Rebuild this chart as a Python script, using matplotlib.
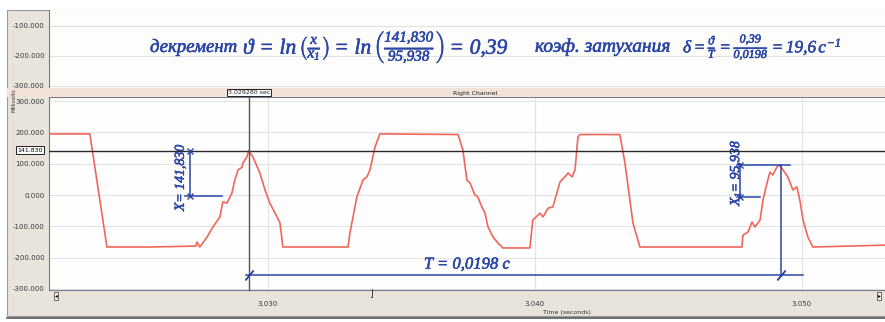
import matplotlib.pyplot as plt
from matplotlib.patches import Rectangle
import matplotlib.patheffects as pe

# waveform: time (seconds) / Millivolts
time_s = [3.02180, 3.02333, 3.02397, 3.02558, 3.02730, 3.02734, 3.02745, 3.02772, 3.02794,
          3.02820, 3.02831, 3.02846, 3.02865, 3.02876, 3.02888, 3.02903, 3.02906, 3.02921,
          3.02928, 3.02944, 3.02970, 3.02989, 3.03007, 3.03034, 3.03045, 3.03056, 3.03300,
          3.03307, 3.03333, 3.03356, 3.03371, 3.03382, 3.03401, 3.03419, 3.03712, 3.03730,
          3.03745, 3.03757, 3.03775, 3.03786, 3.03801, 3.03813, 3.03824, 3.03843, 3.03861,
          3.03880, 3.03981, 3.03992, 3.04019, 3.04030, 3.04049, 3.04067, 3.04082, 3.04094,
          3.04112, 3.04124, 3.04139, 3.04150, 3.04161, 3.04168, 3.04318, 3.04337, 3.04367,
          3.04393, 3.04775, 3.04779, 3.04798, 3.04813, 3.04824, 3.04843, 3.04854, 3.04869,
          3.04880, 3.04891, 3.04906, 3.04917, 3.04929, 3.04947, 3.04966, 3.04981, 3.04992,
          3.05004, 3.05022, 3.05041, 3.05311]
millivolts = [195, 195, -166, -166, -163, -150, -166, -134, -102,
              -70, -22, -26, 6, 48, 80, 89, 102, 121,
              141.83, 121, 70, 16, -26, -70, -89, -166, -166,
              -121, -6, 48, 58, 80, 153, 195, 193, 144,
              48, 38, 0, -6, -38, -58, -102, -134, -153,
              -169, -169, -80, -58, -70, -42, -38, 6, 42,
              58, 70, 58, 80, 185, 193, 193, 102, -89,
              -166, -166, -128, -118, -86, -102, -80, -16, 38,
              73, 64, 89, 95.94, 80, 58, 16, 26, -16,
              -80, -134, -166, -160]

main_ticks = [-300, -200, -100, 0, 100, 200, 300]
top_ticks = [-100, -200, -300]
time_ticks = [3.030, 3.040, 3.050]

cursor_time = 3.029280
x_value = 141.830
x1_value = 95.938
x1_time = 3.04921
x_mark_time = 3.02708
x1_mark_time = 3.04768
zero_level = -3
t_line_level = -256
t_line_end = 3.05004

W, H = 885, 322


def box(x0, y0, x1, y1):
    """pixel box -> figure rect"""
    return [x0 / W, 1 - y1 / H, (x1 - x0) / W, (y1 - y0) / H]


def px(x, y):
    return x / W, 1 - y / H


plt.rcParams['mathtext.fontset'] = 'custom'
plt.rcParams['mathtext.rm'] = 'Liberation Serif:italic'
plt.rcParams['mathtext.it'] = 'Liberation Serif:italic'

fig = plt.figure(figsize=(8.85, 3.22), dpi=100)

# window frame
fig.patches.append(Rectangle((7 / W, 1 - 316 / H), 1, 306 / H, transform=fig.transFigure,
                             facecolor='#e8e3db', edgecolor='#9a9a9a', lw=0.8, zorder=-5))

# upper (empty) channel
ax_top = fig.add_axes(box(49, 10, 885, 88))
ax_top.set_facecolor('#fdfdfc')
ax_top.set_xlim(time_s[0], time_s[-1])
ax_top.set_ylim(-306.7, -46.7)
ax_top.set_yticks(top_ticks)
ax_top.set_yticklabels(['%.3f' % v for v in top_ticks])
ax_top.set_xticks([])
ax_top.grid(axis='y', color='#e2e2e2', lw=0.8)
ax_top.tick_params(axis='y', length=0, labelsize=5, labelcolor='#3a3a3a', pad=3)
for s in ax_top.spines.values():
    s.set_visible(False)
ax_top.spines['left'].set_visible(True)
ax_top.spines['left'].set_color('#7a7a8a')

# header strip of the right channel
fig.patches.append(Rectangle((7 / W, 1 - 97 / H), 1, 9 / H, transform=fig.transFigure,
                             facecolor='#f2e3d8', edgecolor='none', zorder=2))
fig.text(*px(475, 93), 'Right Channel', fontsize=4.5, ha='center', va='center',
         color='#222222', zorder=3)

# main channel
ax = fig.add_axes(box(49, 97, 885, 290))
ax.set_facecolor('#fefefe')
ax.plot(time_s, millivolts, color='#f0675a', lw=1.2, zorder=3)
ax.set_xlim(time_s[0], time_s[-1])
ax.set_ylim(-303.2, 312.8)
ax.set_yticks(main_ticks)
ax.set_yticklabels(['%.3f' % v for v in main_ticks])
ax.set_xticks(time_ticks)
ax.set_xticklabels(['%.3f' % v for v in time_ticks])
ax.grid(color='#e4e4e4', lw=0.8)
ax.tick_params(axis='y', length=0, labelsize=5, labelcolor='#3a3a3a', pad=3)
ax.tick_params(axis='x', length=0, labelsize=5, labelcolor='#3a3a3a', pad=8)
for s in ax.spines.values():
    s.set_color('#7a7a8a')
    s.set_linewidth(0.8)
ax.spines['right'].set_visible(False)
ax.text(0.62, -0.115, 'Time (seconds)', transform=ax.transAxes, fontsize=4.5,
        ha='center', va='center', color='#333333')
fig.text(*px(14, 100), 'Millivolts', rotation=90, fontsize=4, ha='center', va='center',
         color='#333333')

# cursors
ax.axhline(x_value, color='#2a2a2a', lw=1.0, zorder=4)
ax.axvline(cursor_time, color='#555555', lw=1.0, zorder=4, clip_on=False)
fig.text(*px(30, 150), '%.3f' % x_value, fontsize=4.5, ha='center', va='center', zorder=6,
         bbox=dict(boxstyle='square,pad=0.25', fc='white', ec='#222222', lw=0.7))
fig.text(*px(249, 92.5), '%.6f sec' % cursor_time, fontsize=4.5, ha='center', va='center',
         zorder=6, bbox=dict(boxstyle='square,pad=0.2', fc='white', ec='#222222', lw=0.7),
         color='#222222')

# scroll buttons
for x0, sym in [(52, '◂'), (875, '▸')]:
    fig.text(*px(x0 + 4, 296), sym, fontsize=4, ha='center', va='center', zorder=6,
             bbox=dict(boxstyle='square,pad=0.2', fc='#f4f2ee', ec='#555555', lw=0.6))
fig.text(*px(371, 294), '⌋', fontsize=7, ha='center', va='center', color='#333333')

# status bar
fig.add_artist(plt.Line2D([7 / W, 1], [1 - 318 / H, 1 - 318 / H], color='#555555', lw=1.2))

# handwritten notes (pen stroke thickened a little)
blue = '#2b46a6'
pen = [pe.withStroke(linewidth=0.4, foreground=blue)]
hand = dict(color=blue, fontfamily='Liberation Serif', fontstyle='italic', path_effects=pen)
fig.text(*px(150, 47), 'декремент', fontsize=13.5, ha='left', va='center', **hand)
fig.text(*px(243, 47),
         r'$\vartheta\,=\,\ln\left(\frac{x}{x_1}\right)=\,\ln\left(\frac{141{,}830}{95{,}938}\right)=\,0{,}39$',
         fontsize=15.5, ha='left', va='center', color=blue, path_effects=pen)
fig.text(*px(535, 47), 'коэф. затухания', fontsize=14, ha='left', va='center', **hand)
fig.text(*px(683, 47), r'$\delta=\frac{\vartheta}{T}=\frac{0{,}39}{0{,}0198}=19{,}6\,c^{-1}$',
         fontsize=12.5, ha='left', va='center', color=blue, path_effects=pen)

# X mark
ax.plot([x_mark_time, x_mark_time], [x_value, zero_level], color=blue, lw=1.1,
        marker='x', ms=4, zorder=5)
ax.plot([x_mark_time - 0.0002, 3.02828], [zero_level, zero_level], color=blue, lw=1.1, zorder=5)
ax.text(3.02672, 55, 'X= 141,830', rotation=90, fontsize=10, ha='center', va='center', **hand)

# X1 mark
ax.plot([x1_mark_time, x1_mark_time], [x1_value, -6], color=blue, lw=1.1,
        marker='x', ms=4, zorder=5)
ax.plot([x1_mark_time - 0.0001, 3.04955], [x1_value, x1_value], color=blue, lw=1.1, zorder=5)
ax.plot([x1_mark_time - 0.0001, 3.04843], [-6, -6], color=blue, lw=1.1, zorder=5)
ax.text(3.04750, 72, r'$X_1$= 95,938', rotation=90, fontsize=10, ha='center', va='center',
        **hand)

# period T
ax.plot([x1_time, x1_time], [x1_value, t_line_level], color=blue, lw=1.1, zorder=5)
ax.plot([cursor_time - 0.0001, t_line_end], [t_line_level, t_line_level], color=blue,
        lw=1.1, zorder=5)
ax.plot([cursor_time, x1_time], [t_line_level, t_line_level], ls='none',
        marker=(2, 2, -40), ms=9, mec=blue, mew=1.1, zorder=5)
ax.text(3.03745, -222, 'T = 0,0198 с', fontsize=12, ha='center', va='center', **hand)

fig.savefig('out.png', dpi=100)
